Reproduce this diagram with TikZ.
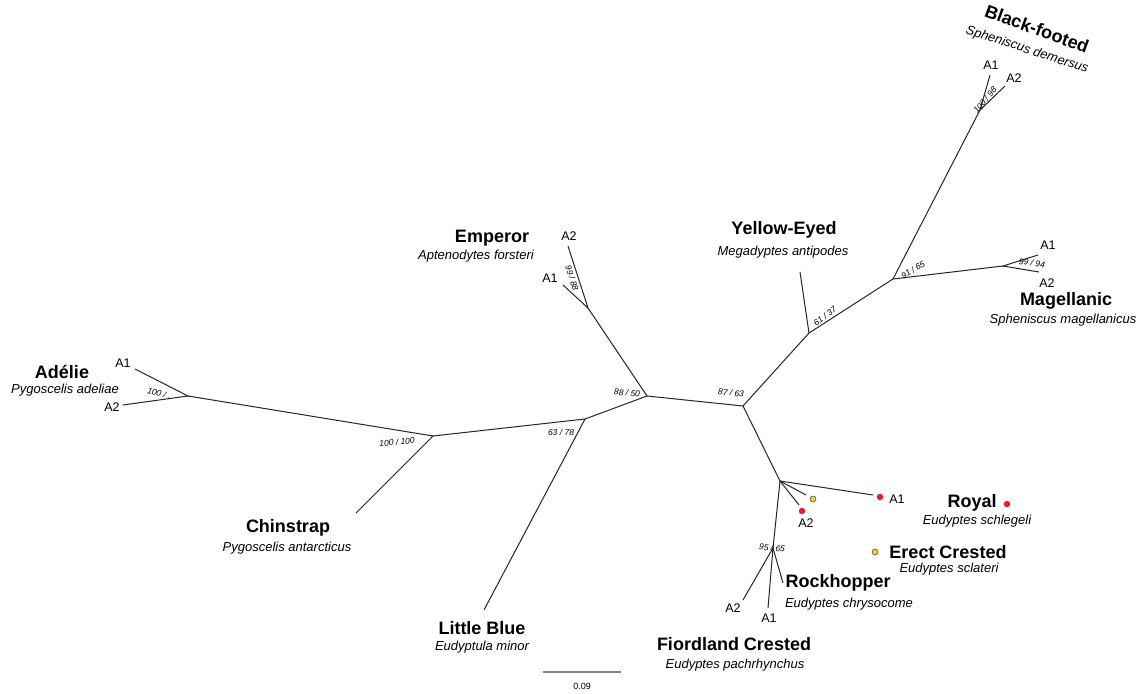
\documentclass[tikz,border=0pt]{standalone}
\usepackage{fontspec}
\setmainfont{Liberation Sans}
\begin{document}
\begin{tikzpicture}[x=1pt,y=-1pt,
  br/.style={draw=black!85,line width=1pt},
  title/.style={inner sep=0pt,font=\fontsize{18}{20}\selectfont\bfseries},
  spec/.style={inner sep=0pt,font=\fontsize{13}{15}\selectfont\itshape},
  tip/.style={inner sep=0pt,font=\fontsize{12.5}{14}\selectfont},
  sup/.style={inner sep=0pt,font=\fontsize{8.5}{10}\selectfont\itshape},
  reddot/.style={circle,fill={rgb,255:red,232;green,30;blue,40},inner sep=0pt,minimum size=6.5pt},
  yeldot/.style={circle,fill={rgb,255:red,235;green,215;blue,40},draw=black!70,line width=0.6pt,inner sep=0pt,minimum size=6pt}]
\useasboundingbox[fill=white] (0,0) rectangle (1142,693);

% internal nodes
\coordinate (nAd) at (188,396);
\coordinate (nCh) at (433,436);
\coordinate (nLB) at (585,419);
\coordinate (nC) at (647,396);
\coordinate (nEm) at (588,308);
\coordinate (nR) at (743,406);
\coordinate (nYE) at (809,333);
\coordinate (nSp) at (893,279);
\coordinate (nBF) at (980,110);
\coordinate (nMg) at (1003,266);
\coordinate (nCr) at (780,481);
\coordinate (nRk) at (773,548);

% tips
\coordinate (tAd1) at (135,369);
\coordinate (tAd2) at (123,405);
\coordinate (tCh) at (356,513);
\coordinate (tLB) at (484,610);
\coordinate (tEm2) at (568,246);
\coordinate (tEm1) at (563,285);
\coordinate (tYE) at (800,272);
\coordinate (tBF1) at (990,75);
\coordinate (tBF2) at (1005,86);
\coordinate (tMg1) at (1038,255);
\coordinate (tMg2) at (1039,272);
\coordinate (tRo1) at (873,495);
\coordinate (tEr) at (806,495);
\coordinate (tRo2) at (799,505);
\coordinate (tFi2) at (743,600);
\coordinate (tFi1) at (768,608);
\coordinate (tRh) at (783,583);

% branches
\draw[br] (tAd1) -- (nAd) -- (tAd2);
\draw[br] (nAd) -- (nCh) -- (tCh);
\draw[br] (nCh) -- (nLB) -- (tLB);
\draw[br] (nLB) -- (nC) -- (nEm);
\draw[br] (tEm2) -- (nEm) -- (tEm1);
\draw[br] (nC) -- (nR) -- (nYE) -- (tYE);
\draw[br] (nYE) -- (nSp) -- (nBF);
\draw[br] (tBF1) -- (nBF) -- (tBF2);
\draw[br] (nSp) -- (nMg);
\draw[br] (tMg1) -- (nMg) -- (tMg2);
\draw[br] (nR) -- (nCr) -- (nRk);
\draw[br] (nCr) -- (tRo1);
\draw[br] (nCr) -- (tEr);
\draw[br] (nCr) -- (tRo2);
\draw[br] (tFi2) -- (nRk) -- (tFi1);
\draw[br] (nRk) -- (tRh);

% dots
\node[reddot] (dRo1) at (880,497) {};
\node[yeldot] (dEr) at (813,499) {};
\node[reddot] (dRo2) at (802,511) {};
\node[reddot] (dRoyal) at (1007,504) {};
\node[yeldot] (dErect) at (875,552) {};

% tip labels
\node[tip] (lAd1) at (123,363) {A1};
\node[tip] (lAd2) at (112,407) {A2};
\node[tip] (lEm2) at (569,236) {A2};
\node[tip] (lEm1) at (550,278) {A1};
\node[tip] (lBF1) at (991,65) {A1};
\node[tip] (lBF2) at (1014,78) {A2};
\node[tip] (lMg1) at (1048,245) {A1};
\node[tip] (lMg2) at (1047,283) {A2};
\node[tip] (lRo1) at (897,499) {A1};
\node[tip] (lRo2) at (806,523) {A2};
\node[tip] (lFi2) at (733,608) {A2};
\node[tip] (lFi1) at (769,618) {A1};

% support values
\node[sup,rotate=-14] (sAd) at (159,393) {100 / .};
\node[sup,rotate=5] (sCh) at (397,442) {100 / 100};
\node[sup] (sLB) at (561,432) {63 / 78};
\node[sup,rotate=-5] (sC) at (627,393) {88 / 50};
\node[sup,rotate=-72] (sEm) at (572,278) {99 / 88};
\node[sup,rotate=-5] (sR) at (731,393) {87 / 63};
\node[sup,rotate=37] (sYE) at (825,316) {61 / 37};
\node[sup,rotate=32] (sSp) at (913,270) {91 / 65};
\node[sup,rotate=50] (sBF) at (985,100) {100 / 98};
\node[sup,rotate=-8] (sMg) at (1032,263) {99 / 94};
\node[sup,rotate=-5] (sRk) at (772,548) {95 / 65};

% species labels
\node[title] (Ad) at (62,372) {Adélie};
\node[spec] (Ads) at (65,390) {Pygoscelis adeliae};
\node[title] (Em) at (492,238) {Emperor};
\node[spec] (Ems) at (476,256) {Aptenodytes forsteri};
\node[title] (Ch) at (288,528) {Chinstrap};
\node[spec] (Chs) at (287,548) {Pygoscelis antarcticus};
\node[title] (LB) at (482,628) {Little Blue};
\node[spec] (LBs) at (482,647) {Eudyptula minor};
\node[title] (YE) at (784,230) {Yellow-Eyed};
\node[spec] (YEs) at (783,252) {Megadyptes antipodes};
\node[title] (Mg) at (1066,301) {Magellanic};
\node[spec] (Mgs) at (1063,320) {Spheniscus magellanicus};
\node[title,rotate=-20] (BF) at (1037,29) {Black-footed};
\node[spec,rotate=-18] (BFs) at (1027,50) {Spheniscus demersus};
\node[title] (Ro) at (972,503) {Royal};
\node[spec] (Ros) at (977,521) {Eudyptes schlegeli};
\node[title] (Er) at (948,552) {Erect Crested};
\node[spec] (Ers) at (949,569) {Eudyptes sclateri};
\node[title] (Rh) at (838,583) {Rockhopper};
\node[spec] (Rhs) at (849,604) {Eudyptes chrysocome};
\node[title] (Fi) at (734,644) {Fiordland Crested};
\node[spec] (Fis) at (735,665) {Eudyptes pachrhynchus};

% scale bar
\coordinate (sb1) at (543,672);
\coordinate (sb2) at (621,672);
\draw[black!50,line width=1.6pt] (sb1) -- (sb2);
\node[inner sep=0pt,font=\fontsize{9}{10}\selectfont] (sbl) at (582,686) {0.09};
\end{tikzpicture}
\end{document}
